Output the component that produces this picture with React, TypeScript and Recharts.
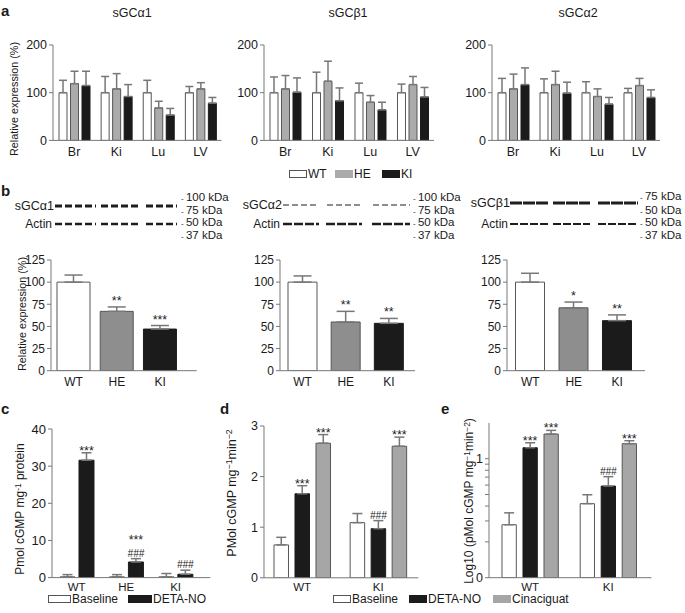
import React from "react";
import { BarChart, Bar, XAxis, YAxis, ErrorBar, Cell, LabelList } from "recharts";

const FONT = '"Liberation Sans", Arial, Helvetica, sans-serif';
const INK = "#1a1a1a";
const AXIS = "#777";
const ERR = "#777";
const EDGE = "#555";
const WT_FILL = "#ffffff";
const HE_A = "#ababab";
const HE_B = "#8e8e8e";
const KI_FILL = "#1b1b1b";
const CINA = "#a6a6a6";

// ---- panel a: relative expression per tissue (mean, SEM)
const tissues = ["Br", "Ki", "Lu", "LV"];
const aTicks = [0, 100, 200];

const a1Wt = [100, 100, 100, 100];
const a1WtErr = [26, 34, 26, 13];
const a1He = [119, 108, 68, 108];
const a1HeErr = [26, 32, 14, 13];
const a1Ki = [115, 92, 53, 78];
const a1KiErr = [30, 25, 14, 12];

const a2Wt = [100, 100, 100, 100];
const a2WtErr = [33, 43, 20, 18];
const a2He = [108, 124, 80, 117];
const a2HeErr = [28, 42, 14, 17];
const a2Ki = [101, 83, 64, 91];
const a2KiErr = [30, 27, 16, 20];

const a3Wt = [100, 100, 100, 100];
const a3WtErr = [30, 29, 23, 9];
const a3He = [108, 117, 92, 115];
const a3HeErr = [31, 28, 16, 15];
const a3Ki = [117, 99, 76, 90];
const a3KiErr = [35, 23, 14, 16];

const aLegend = ["WT", "HE", "KI"];

// ---- panel b: western blot quantification
const genotypes = ["WT", "HE", "KI"];
const bTicks = [0, 25, 50, 75, 100, 125];
const b1Mean = [100, 67, 47];
const b1Err = [8, 5, 4];
const b1Sig = ["", "**", "***"];
const b2Mean = [100, 55, 53.5];
const b2Err = [7, 12, 5.5];
const b2Sig = ["", "**", "**"];
const b3Mean = [100, 71, 56.5];
const b3Err = [10, 6.5, 6.5];
const b3Sig = ["", "*", "**"];
const kdaAlpha = ["100 kDa", "75 kDa", "50 kDa", "37 kDa"];
const kdaBeta = ["75 kDa", "50 kDa", "50 kDa", "37 kDa"];

// ---- panel c: cGMP, baseline vs DETA-NO
const cTicks = [0, 10, 20, 30, 40];
const cBase = [0.2, 0.2, 0.2];
const cBaseErr = [0.6, 0.6, 0.9];
const cDeta = [31.6, 4.2, 0.9];
const cDetaErr = [2.0, 0.9, 1.1];
const cDetaSig = ["***", "***\n###", "###"];
const cLegend = ["Baseline", "DETA-NO"];

// ---- panel d/e: WT vs KI with cinaciguat
const dGroups = ["WT", "KI"];
const dTicks = [0, 1, 2, 3];
const dBase = [0.65, 1.09];
const dBaseErr = [0.15, 0.18];
const dDeta = [1.66, 0.97];
const dDetaErr = [0.16, 0.16];
const dDetaSig = ["***", "###"];
const dCina = [2.66, 2.6];
const dCinaErr = [0.17, 0.18];
const dCinaSig = ["***", "***"];

const eTicks = [0, 0.301, 0.477, 0.602, 0.699, 0.778, 0.845, 0.903, 0.954, 1];
const eBase = [0.445, 0.622];
const eBaseErr = [0.1, 0.075];
const eDeta = [1.092, 0.77];
const eDetaErr = [0.042, 0.079];
const eDetaSig = ["***", "###"];
const eCina = [1.207, 1.126];
const eCinaErr = [0.031, 0.025];
const eCinaSig = ["***", "***"];
const deLegend = ["Baseline", "DETA-NO", "Cinaciguat"];

type Rect = { x: number; y: number; w: number; h: number };

// stars / hashes sitting on top of the error bar cap
function sig(vals: number[], errs: number[], marks: string[], lift: number) {
  return (p: any) => {
    const i = typeof p.value === "number" ? p.value : p.index;
    const m = marks[i];
    if (!m) return null;
    const vb = p.viewBox ?? p;
    const per = vb.height / vals[i];
    const cap = vb.y + vb.height - (vals[i] + errs[i]) * per;
    const lines = m.split("\n").reverse();
    let base = cap;
    return (
      <g>
        {lines.map((l, k) => {
          const hash = l.startsWith("#");
          const y = k === 0 ? (hash ? cap - 2 : cap + lift) : base - 13;
          base = y;
          return (
            <text
              key={k}
              x={vb.x + vb.width / 2}
              y={y}
              textAnchor="middle"
              fontSize={hash ? 10 : 12.5}
              fontStyle={hash ? "italic" : "normal"}
              fontFamily={FONT}
              fill={INK}
            >
              {l}
            </text>
          );
        })}
      </g>
    );
  };
}

function Plot({
  r,
  yw,
  data,
  barSize,
  barGap,
  children,
}: {
  r: Rect;
  yw: number;
  data: any[];
  barSize: number;
  barGap: number;
  children: React.ReactNode;
}) {
  const mt = 40;
  const mr = 14;
  const xh = 30;
  return (
    <div style={{ position: "absolute", left: r.x - yw, top: r.y - mt }}>
      <BarChart
        width={yw + r.w + mr}
        height={mt + r.h + xh}
        data={data}
        margin={{ top: mt, right: mr, bottom: 0, left: 0 }}
        barSize={barSize}
        barGap={barGap}
      >
        {children}
      </BarChart>
    </div>
  );
}

function Txt({
  x,
  y,
  s = 12,
  a = "c",
  rot = false,
  bold = false,
  lh = 1,
  children,
}: {
  x: number;
  y: number;
  s?: number;
  a?: "c" | "l" | "r";
  rot?: boolean;
  bold?: boolean;
  lh?: number;
  children: React.ReactNode;
}) {
  const tx = a === "c" ? "-50%" : a === "r" ? "-100%" : "0";
  return (
    <div
      style={{
        position: "absolute",
        left: x,
        top: y,
        fontSize: s,
        fontWeight: bold ? 700 : 400,
        lineHeight: lh,
        whiteSpace: "nowrap",
        color: INK,
        transform: `translate(${tx}, -50%)${rot ? " rotate(-90deg)" : ""}`,
      }}
    >
      {children}
    </div>
  );
}

function Swatch({ x, y, fill, label, w = 18 }: { x: number; y: number; fill: string; label: string; w?: number }) {
  return (
    <>
      <div
        style={{
          position: "absolute",
          left: x,
          top: y - 4,
          width: w,
          height: 8,
          boxSizing: "border-box",
          background: fill,
          border: `1px solid ${fill === WT_FILL ? EDGE : fill}`,
        }}
      />
      <Txt x={x + w + 1} y={y} a="l" lh={0.9}>
        {label}
      </Txt>
    </>
  );
}

const tickStyle = (s: number) => ({ fontSize: s, fill: INK, fontFamily: FONT });

function TissueChart({
  x,
  w,
  wt,
  wtErr,
  he,
  heErr,
  ki,
  kiErr,
}: {
  x: number;
  w: number;
  wt: number[];
  wtErr: number[];
  he: number[];
  heErr: number[];
  ki: number[];
  kiErr: number[];
}) {
  const data = tissues.map((t, i) => ({
    name: t,
    wt: wt[i],
    wtE: [0, wtErr[i]],
    he: he[i],
    heE: [0, heErr[i]],
    ki: ki[i],
    kiE: [0, kiErr[i]],
  }));
  return (
    <Plot r={{ x, y: 45.3, w, h: 95.4 }} yw={40} data={data} barSize={8} barGap={3.5}>
      <XAxis
        dataKey="name"
        tickLine={false}
        axisLine={{ stroke: AXIS }}
        tick={tickStyle(12.5)}
        tickSize={5}
        tickMargin={2}
        height={30}
        interval={0}
      />
      <YAxis
        width={40}
        domain={[0, 200]}
        ticks={aTicks}
        interval={0}
        allowDataOverflow
        tickSize={4}
        tickMargin={2}
        axisLine={{ stroke: AXIS }}
        tickLine={{ stroke: AXIS }}
        tick={tickStyle(12.5)}
      />
      <Bar dataKey="wt" fill={WT_FILL} stroke={EDGE} isAnimationActive={false}>
        <ErrorBar dataKey="wtE" width={4} stroke={ERR} direction="y" />
      </Bar>
      <Bar dataKey="he" fill={HE_A} stroke={EDGE} isAnimationActive={false}>
        <ErrorBar dataKey="heE" width={4} stroke={ERR} direction="y" />
      </Bar>
      <Bar dataKey="ki" fill={KI_FILL} stroke={KI_FILL} isAnimationActive={false}>
        <ErrorBar dataKey="kiE" width={4} stroke={ERR} direction="y" />
      </Bar>
    </Plot>
  );
}

function BlotChart({
  x,
  w,
  pad,
  size,
  mean,
  err,
  marks,
}: {
  x: number;
  w: number;
  pad: [number, number];
  size: number;
  mean: number[];
  err: number[];
  marks: string[];
}) {
  const data = genotypes.map((g, i) => ({ name: g, v: mean[i], e: [0, err[i]], i }));
  const fills = [WT_FILL, HE_B, KI_FILL];
  return (
    <Plot r={{ x, y: 260, w, h: 110.7 }} yw={40} data={data} barSize={size} barGap={4}>
      <XAxis
        dataKey="name"
        tickLine={false}
        axisLine={{ stroke: AXIS }}
        tick={tickStyle(12)}
        tickSize={5}
        tickMargin={2}
        height={30}
        interval={0}
        padding={{ left: pad[0], right: pad[1] }}
      />
      <YAxis
        width={40}
        domain={[0, 125]}
        ticks={bTicks}
        interval={0}
        allowDataOverflow
        tickSize={4}
        tickMargin={2}
        axisLine={{ stroke: AXIS }}
        tickLine={{ stroke: AXIS }}
        tick={tickStyle(12)}
      />
      <Bar dataKey="v" stroke={EDGE} isAnimationActive={false}>
        {data.map((d, i) => (
          <Cell key={d.name} fill={fills[i]} stroke={i === 2 ? KI_FILL : EDGE} />
        ))}
        <ErrorBar dataKey="e" width={9} stroke={ERR} direction="y" />
        <LabelList dataKey="i" content={sig(mean, err, marks, -2)} />
      </Bar>
    </Plot>
  );
}

function GroupChart({
  r,
  groups,
  ticks,
  domain,
  size,
  gap,
  pad,
  series,
  fmt,
  tickSize,
}: {
  r: Rect;
  groups: string[];
  ticks: number[];
  domain: [number, number];
  size: number;
  gap: number;
  pad: [number, number];
  series: { vals: number[]; errs: number[]; marks?: string[]; fill: string }[];
  fmt?: (v: number) => string;
  tickSize: number;
}) {
  const data = groups.map((g, i) => {
    const row: any = { name: g, i };
    series.forEach((s, k) => {
      row["s" + k] = s.vals[i];
      row["e" + k] = [0, s.errs[i]];
    });
    return row;
  });
  return (
    <Plot r={r} yw={40} data={data} barSize={size} barGap={gap}>
      <XAxis
        dataKey="name"
        tickLine={false}
        axisLine={{ stroke: AXIS }}
        tick={tickStyle(11.5)}
        tickSize={3}
        tickMargin={2}
        height={30}
        interval={0}
        padding={{ left: pad[0], right: pad[1] }}
      />
      <YAxis
        width={40}
        domain={domain}
        ticks={ticks}
        interval={0}
        allowDataOverflow
        tickSize={4}
        tickMargin={2}
        axisLine={{ stroke: AXIS }}
        tickLine={{ stroke: AXIS }}
        tick={tickStyle(tickSize)}
        tickFormatter={fmt}
      />
      {series.map((s, k) => (
        <Bar
          key={k}
          dataKey={"s" + k}
          fill={s.fill}
          stroke={s.fill === KI_FILL ? KI_FILL : EDGE}
          isAnimationActive={false}
        >
          <ErrorBar dataKey={"e" + k} width={5} stroke={ERR} direction="y" />
          {s.marks ? <LabelList dataKey="i" content={sig(s.vals, s.errs, s.marks, 2)} /> : null}
        </Bar>
      ))}
    </Plot>
  );
}

// blot bands (drawn decoration, not data)
const blotRows = [
  { y: 206, sw: 2.8, dash: "7 3", g: [[55, 96], [101, 138], [146, 177]] },
  { y: 224, sw: 2.6, dash: "7 3", g: [[55, 96], [101, 138], [146, 177]] },
  { y: 205, sw: 1.2, dash: "6 3", g: [[283, 319], [327, 362], [373, 410]] },
  { y: 224, sw: 2.6, dash: "9 2", g: [[283, 319], [326, 362], [372, 410]] },
  { y: 203, sw: 3, dash: "12 1", g: [[510, 548], [553, 590], [598, 638]] },
  { y: 224, sw: 1.8, dash: "8 2", g: [[510, 548], [553, 590], [598, 638]] },
];

function Kda({ x, ys, labels }: { x: number; ys: number[]; labels: string[] }) {
  return (
    <>
      {labels.map((l, i) => (
        <Txt key={i} x={x} y={ys[i]} a="l" s={11.5} lh={0.85}>
          <span style={{ fontSize: 8 }}>- </span>
          {l}
        </Txt>
      ))}
    </>
  );
}

const supStyle: React.CSSProperties = { fontSize: "0.7em", verticalAlign: "0.45em" };

export default function App() {
  return (
    <div
      style={{
        position: "relative",
        width: 685,
        height: 613,
        background: "#fff",
        fontFamily: FONT,
        overflow: "hidden",
      }}
    >
      <style>{"body{margin:0;}"}</style>

      <svg width={685} height={613} style={{ position: "absolute", left: 0, top: 0 }}>
        {blotRows.map((row, i) =>
          row.g.map(([x1, x2], k) => (
            <line
              key={i + "-" + k}
              x1={x1}
              x2={x2}
              y1={row.y}
              y2={row.y}
              stroke="#1e1e1e"
              strokeWidth={row.sw}
              strokeDasharray={row.dash}
            />
          ))
        )}
      </svg>

      {/* panel a */}
      <Txt x={1} y={10} a="l" s={15} bold>
        a
      </Txt>
      <Txt x={132} y={13} s={12.5}>sGCα1</Txt>
      <Txt x={348} y={13} s={12.5}>sGCβ1</Txt>
      <Txt x={578} y={13} s={12.5}>sGCα2</Txt>
      <Txt x={14} y={99} s={10.8} rot>
        Relative expression (%)
      </Txt>
      <TissueChart x={52.7} w={168.5} wt={a1Wt} wtErr={a1WtErr} he={a1He} heErr={a1HeErr} ki={a1Ki} kiErr={a1KiErr} />
      <TissueChart x={264} w={170} wt={a2Wt} wtErr={a2WtErr} he={a2He} heErr={a2HeErr} ki={a2Ki} kiErr={a2KiErr} />
      <TissueChart x={491.7} w={168} wt={a3Wt} wtErr={a3WtErr} he={a3He} heErr={a3HeErr} ki={a3Ki} kiErr={a3KiErr} />
      <Swatch x={289} y={174} fill={WT_FILL} label={aLegend[0]} />
      <Swatch x={335} y={174} fill={HE_A} label={aLegend[1]} />
      <Swatch x={382} y={174} fill={KI_FILL} label={aLegend[2]} />

      {/* panel b */}
      <Txt x={1} y={190} a="l" s={15} bold>
        b
      </Txt>
      <Txt x={54} y={206} a="r" s={12.5}>
        sGCα1
      </Txt>
      <Txt x={52} y={224} a="r">
        Actin
      </Txt>
      <Txt x={282} y={205} a="r" s={12.5}>
        sGCα2
      </Txt>
      <Txt x={280} y={224} a="r">
        Actin
      </Txt>
      <Txt x={510} y={203} a="r" s={12.5}>
        sGCβ1
      </Txt>
      <Txt x={508} y={224} a="r">
        Actin
      </Txt>
      <Kda x={181} ys={[198, 211, 223, 236]} labels={kdaAlpha} />
      <Kda x={413} ys={[198, 211, 223, 236]} labels={kdaAlpha} />
      <Kda x={640} ys={[197, 211, 223, 236]} labels={kdaBeta} />
      <Txt x={22} y={314} s={10.8} rot>
        Relative expression (%)
      </Txt>
      <BlotChart x={51} w={145.7} pad={[1, 15]} size={33} mean={b1Mean} err={b1Err} marks={b1Sig} />
      <BlotChart x={280} w={135} pad={[1, 4.5]} size={29} mean={b2Mean} err={b2Err} marks={b2Sig} />
      <BlotChart x={507} w={138} pad={[1.5, 6]} size={29} mean={b3Mean} err={b3Err} marks={b3Sig} />

      {/* panel c */}
      <Txt x={1} y={408} a="l" s={15} bold>
        c
      </Txt>
      <Txt x={20} y={509} s={12} rot>
        Pmol cGMP mg<span style={supStyle}>-1</span> protein
      </Txt>
      <GroupChart
        r={{ x: 51.7, y: 428.7, w: 158.3, h: 148.6 }}
        groups={genotypes}
        ticks={cTicks}
        domain={[0, 40]}
        size={15}
        gap={4}
        pad={[0, 10]}
        tickSize={13}
        series={[
          { vals: cBase, errs: cBaseErr, fill: WT_FILL },
          { vals: cDeta, errs: cDetaErr, marks: cDetaSig, fill: KI_FILL },
        ]}
      />
      <Swatch x={48} y={598.5} w={23} fill={WT_FILL} label={cLegend[0]} />
      <Swatch x={128} y={598.5} w={24} fill={KI_FILL} label={cLegend[1]} />

      {/* panel d */}
      <Txt x={220} y={408} a="l" s={15} bold>
        d
      </Txt>
      <Txt x={232} y={493} s={12.5} rot>
        PMol cGMP mg<span style={supStyle}>−1</span>min<span style={supStyle}>−2</span>
      </Txt>
      <GroupChart
        r={{ x: 264, y: 425.5, w: 154.3, h: 151.8 }}
        groups={dGroups}
        ticks={dTicks}
        domain={[0, 3]}
        size={14.5}
        gap={6.5}
        pad={[0, 2]}
        tickSize={12.5}
        series={[
          { vals: dBase, errs: dBaseErr, fill: WT_FILL },
          { vals: dDeta, errs: dDetaErr, marks: dDetaSig, fill: KI_FILL },
          { vals: dCina, errs: dCinaErr, marks: dCinaSig, fill: CINA },
        ]}
      />

      {/* panel e */}
      <Txt x={441} y={408} a="l" s={15} bold>
        e
      </Txt>
      <Txt x={469} y={501} s={12} rot>
        Log10 (pMol cGMP mg<span style={supStyle}>−1</span>min<span style={supStyle}>−2</span>)
      </Txt>
      <GroupChart
        r={{ x: 489.3, y: 422.6, w: 162.4, h: 154.7 }}
        groups={dGroups}
        ticks={eTicks}
        domain={[0, 1.3]}
        size={14.3}
        gap={6.7}
        pad={[2, 4]}
        tickSize={12.5}
        fmt={(v) => (v === 0 || v === 1 ? String(v) : "")}
        series={[
          { vals: eBase, errs: eBaseErr, fill: WT_FILL },
          { vals: eDeta, errs: eDetaErr, marks: eDetaSig, fill: KI_FILL },
          { vals: eCina, errs: eCinaErr, marks: eCinaSig, fill: CINA },
        ]}
      />

      <Swatch x={333} y={598.5} fill={WT_FILL} label={deLegend[0]} />
      <Swatch x={409} y={598.5} fill={KI_FILL} label={deLegend[1]} />
      <Swatch x={493} y={598.5} fill={CINA} label={deLegend[2]} />
    </div>
  );
}
